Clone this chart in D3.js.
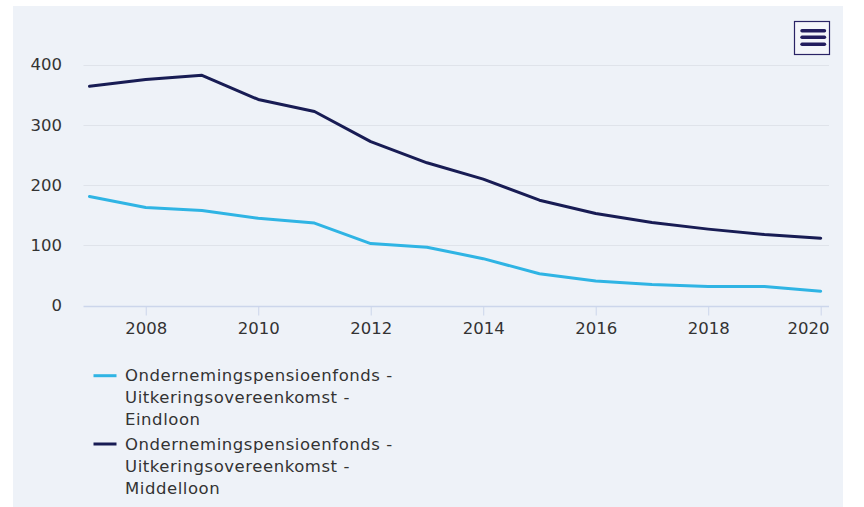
<!DOCTYPE html>
<html><head><meta charset="utf-8">
<script src="https://cdn.jsdelivr.net/npm/d3@7"></script>
<style>
html,body{margin:0;padding:0;background:#fff;}
svg{display:block;}
text{font-family:"DejaVu Sans",Verdana,sans-serif;fill:#333;}
</style></head>
<body>
<svg id="chart" width="864" height="507"></svg>
<script>
const years = [2007,2008,2009,2010,2011,2012,2013,2014,2015,2016,2017,2018,2019,2020];
const eindloon =   [181,163,158,145,137,103,97,78,53,41,35,32,32,24];
const middelloon = [364,375,382,342,322,272,237,210,175,153,138,127,118,112];
const seriesNames = [
  ["Ondernemingspensioenfonds -","Uitkeringsovereenkomst -","Eindloon"],
  ["Ondernemingspensioenfonds -","Uitkeringsovereenkomst -","Middelloon"]
];
const seriesColors = ["#2fb4e4","#181c54"];
const yTicks = [0,100,200,300,400];
const xTicks = [2008,2010,2012,2014,2016,2018,2020];

const svg = d3.select("#chart");
const fs = 16.5;

// panel
svg.append("rect").attr("x",13).attr("y",6).attr("width",830).attr("height",501).attr("fill","#eef2f8");

const plotL = 83.5, plotR = 829;
const x = d3.scaleLinear().domain([2007,2020]).range([89.5,820.7]);
const y = d3.scaleLinear().domain([0,400]).range([305.7,64.5]);

// grid
svg.append("g").selectAll("line").data(yTicks.filter(d=>d>0)).join("line")
  .attr("x1",plotL).attr("x2",plotR)
  .attr("y1",d=>Math.round(y(d))+0.5).attr("y2",d=>Math.round(y(d))+0.5)
  .attr("stroke","#dfe3ea").attr("stroke-width",1);

// y labels
svg.append("g").selectAll("text").data(yTicks).join("text")
  .attr("x",62).attr("y",d=>y(d)).attr("dy","0.35em")
  .attr("text-anchor","end").attr("font-size",fs).text(d=>d);

// x axis
const xAxisG = svg.append("g").attr("transform",`translate(0,${Math.round(y(0))+0.5})`)
  .call(d3.axisBottom(x).tickValues(xTicks).tickFormat(d3.format("d")).tickSize(9).tickPadding(7).tickSizeOuter(0));
xAxisG.select(".domain").attr("d",`M${plotL},0H${plotR}`).attr("stroke","#ccd6eb").attr("stroke-width",1.5);
xAxisG.selectAll(".tick line").attr("stroke","#ccd6eb").attr("stroke-width",1);
xAxisG.selectAll(".tick text").attr("font-size",fs).attr("fill","#333").style("font-family","'DejaVu Sans',Verdana,sans-serif");
// keep last label inside plot
xAxisG.selectAll(".tick text").each(function(d){
  const w = this.getComputedTextLength();
  const cx = x(d);
  if (cx + w/2 > plotR) d3.select(this).attr("text-anchor","end").attr("x", plotR - cx);
});

// lines
const line = d3.line().x((d,i)=>x(years[i])).y(d=>y(d));
[eindloon, middelloon].forEach((s,k)=>{
  svg.append("path").datum(s).attr("d",line).attr("fill","none")
    .attr("stroke",seriesColors[k]).attr("stroke-width",3)
    .attr("stroke-linejoin","round").attr("stroke-linecap","round");
});

// legend
const legTop = [375.7, 444];
seriesNames.forEach((lines,k)=>{
  const g = svg.append("g");
  g.append("line").attr("x1",93.5).attr("x2",116.5).attr("y1",legTop[k]).attr("y2",legTop[k])
    .attr("stroke",seriesColors[k]).attr("stroke-width",3);
  lines.forEach((t,j)=>{
    g.append("text").attr("x",125).attr("y",legTop[k]+j*22).attr("dy","0.35em")
      .attr("font-size",fs).style("letter-spacing","0.55px").text(t);
  });
});

// menu button
const mb = svg.append("g");
mb.append("rect").attr("x",794.5).attr("y",21.5).attr("width",35).attr("height",33)
  .attr("fill","#f4f5fa").attr("stroke","#2a2366").attr("stroke-width",1.2);
[30.7,37.3,44.3].forEach(yy=>{
  mb.append("line").attr("x1",802).attr("x2",824.5).attr("y1",yy).attr("y2",yy)
    .attr("stroke","#221c5e").attr("stroke-width",3.4).attr("stroke-linecap","round");
});
</script>
</body></html>
